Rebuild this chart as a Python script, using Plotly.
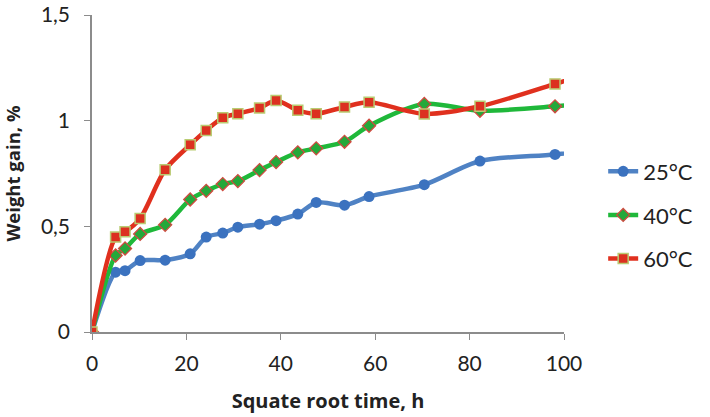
import plotly.graph_objects as go

x_time = [0, 5.0, 7.0, 10.2, 15.5, 20.8, 24.2, 27.7, 30.9, 35.5, 39.0, 43.6,
          47.5, 53.5, 58.7, 70.4, 82.2, 98.1, 108.5]
gain_25 = [0, 0.283, 0.29, 0.338, 0.34, 0.37, 0.449, 0.468, 0.496, 0.51, 0.527,
           0.558, 0.613, 0.60, 0.641, 0.697, 0.809, 0.84, 0.87]
gain_40 = [0, 0.362, 0.395, 0.464, 0.507, 0.627, 0.668, 0.70, 0.714, 0.766, 0.804,
           0.85, 0.869, 0.90, 0.976, 1.079, 1.047, 1.068, 1.09]
gain_60 = [0, 0.449, 0.474, 0.537, 0.768, 0.886, 0.954, 1.014, 1.033, 1.06, 1.095,
           1.049, 1.033, 1.065, 1.087, 1.032, 1.068, 1.174, 1.25]
series_names = ["25°C", "40°C", "60°C"]
y_ticks = [0, 0.5, 1, 1.5]
y_tick_text = ["0", "0,5", "1", "1,5"]
x_ticks = [0, 20, 40, 60, 80, 100]

FONT = "Lato, 'Open Sans', sans-serif"
TFONT = "'Open Sans', sans-serif"
TXT = "#222222"

fig = go.Figure()
fig.add_trace(go.Scatter(
    x=x_time, y=gain_25, name=series_names[0], mode="lines+markers", legendgroup="a",
    line=dict(color="#4f82c4", width=4.5, shape="spline", smoothing=0.8),
    marker=dict(symbol="circle", size=11, color="#3b72bf",
                line=dict(color="#3b72bf", width=0)),
))
fig.add_trace(go.Scatter(
    x=x_time, y=gain_40, name=series_names[1], mode="lines+markers", legendgroup="b",
    line=dict(color="#1fb83a", width=4.5, shape="spline", smoothing=0.8),
    marker=dict(symbol="diamond", size=10, color="#24a83a",
                line=dict(color="#d04a40", width=1.3)),
))
fig.add_trace(go.Scatter(
    x=x_time, y=gain_60, name=series_names[2], mode="lines+markers", legendgroup="c",
    line=dict(color="#e0301e", width=4.5, shape="spline", smoothing=0.8),
    marker=dict(symbol="square", size=10, color="#dc3020",
                line=dict(color="#b9cc72", width=1.5)),
))

fig.update_layout(
    width=710, height=417,
    margin=dict(l=92, r=146, t=15, b=85),
    plot_bgcolor="white", paper_bgcolor="white",
    font=dict(family=FONT, size=21, color=TXT),
    showlegend=True,
    legend=dict(x=1.083, y=0.369, xanchor="left", yanchor="middle",
                font=dict(family=FONT, size=22, color=TXT),
                tracegroupgap=12, itemsizing="trace"),
    xaxis=dict(
        range=[0, 100], tickvals=x_ticks, showgrid=False, zeroline=False,
        showline=True, linecolor="#8c8c8c", linewidth=1.5, automargin=False,
        ticks="outside", ticklen=6, tickcolor="#8c8c8c", ticklabelstandoff=6,
        ticklabeloverflow="allow",
        tickfont=dict(family=FONT, size=21, color=TXT),
        title=dict(text="<b>Squate root time, h</b>",
                   font=dict(family=TFONT, size=20, color=TXT), standoff=20),
    ),
    yaxis=dict(
        range=[0, 1.5], tickvals=y_ticks, ticktext=y_tick_text, showgrid=False,
        zeroline=False, showline=True, linecolor="#8c8c8c", linewidth=1.5,
        automargin=False, ticklabelstandoff=10, ticklabeloverflow="allow",
        ticks="outside", ticklen=6, tickcolor="#8c8c8c",
        tickfont=dict(family=FONT, size=21, color=TXT),
        title=dict(text="<b>Weight gain, %</b>",
                   font=dict(family=TFONT, size=18.5, color=TXT), standoff=16),
    ),
)

fig.write_html("out.html", config={"displayModeBar": False},
               post_script="document.body.style.margin='0';")
